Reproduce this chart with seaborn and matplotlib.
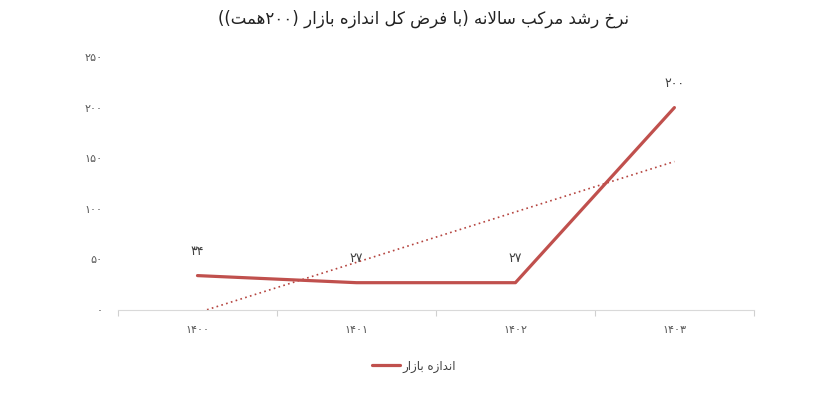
import numpy as np
import pandas as pd
import matplotlib
matplotlib.use("Agg")
import matplotlib.pyplot as plt
import seaborn as sns

# data
years = ["1400", "1401", "1402", "1403"]
market_size = [34, 27, 27, 200]
y_ticks = [0, 50, 100, 150, 200, 250]

title_text = "نرخ رشد مرکب سالانه (با فرض کل اندازه بازار (200همت))"
legend_text = "اندازه بازار"

# --- tiny persian shaper (matplotlib has no bidi / joining support) ---
FORMS = {
    "ا": ("\uFE8D", "\uFE8E", None, None),
    "ب": ("\uFE8F", "\uFE90", "\uFE91", "\uFE92"),
    "ت": ("\uFE95", "\uFE96", "\uFE97", "\uFE98"),
    "خ": ("\uFEA5", "\uFEA6", "\uFEA7", "\uFEA8"),
    "د": ("\uFEA9", "\uFEAA", None, None),
    "ر": ("\uFEAD", "\uFEAE", None, None),
    "ز": ("\uFEAF", "\uFEB0", None, None),
    "س": ("\uFEB1", "\uFEB2", "\uFEB3", "\uFEB4"),
    "ش": ("\uFEB5", "\uFEB6", "\uFEB7", "\uFEB8"),
    "ض": ("\uFEBD", "\uFEBE", "\uFEBF", "\uFEC0"),
    "ف": ("\uFED1", "\uFED2", "\uFED3", "\uFED4"),
    "ک": ("\uFB8E", "\uFB8F", "\uFB90", "\uFB91"),
    "ل": ("\uFEDD", "\uFEDE", "\uFEDF", "\uFEE0"),
    "م": ("\uFEE1", "\uFEE2", "\uFEE3", "\uFEE4"),
    "ن": ("\uFEE5", "\uFEE6", "\uFEE7", "\uFEE8"),
    "ه": ("\uFEE9", "\uFEEA", "\uFEEB", "\uFEEC"),
}
FA_DIGITS = str.maketrans("0123456789", "۰۱۲۳۴۵۶۷۸۹")
MIRROR = {"(": ")", ")": "("}


def joins_next(c):
    return c in FORMS and FORMS[c][2] is not None


def fa(text):
    text = text.translate(FA_DIGITS)
    chars = list(text)
    tokens = []
    i = 0
    while i < len(chars):
        c = chars[i]
        prev = chars[i - 1] if i > 0 else ""
        nxt = chars[i + 1] if i + 1 < len(chars) else ""
        if c.isdigit():
            j = i
            while j < len(chars) and chars[j].isdigit():
                j += 1
            tokens.append("".join(chars[i:j]))
            i = j
            continue
        if c == "ل" and nxt == "ا":
            tokens.append("\uFEFC" if joins_next(prev) else "\uFEFB")
            i += 2
            continue
        if c in FORMS:
            iso, fin, ini, med = FORMS[c]
            p = joins_next(prev)
            n = joins_next(c) and nxt in FORMS
            if p and n:
                g = med
            elif p:
                g = fin
            elif n:
                g = ini
            else:
                g = iso
            tokens.append(g)
        else:
            tokens.append(MIRROR.get(c, c))
        i += 1
    return "".join(reversed(tokens))


df = pd.DataFrame({"pos": np.arange(len(years)), "size": market_size})

sns.set_style("white")
plt.rcParams["font.family"] = ["DejaVu Sans"]

fig = plt.figure(figsize=(8.28, 4.01), dpi=100)
ax = fig.add_axes([0.1425, 0.2269, 0.768, 0.631])

red = "#C0504D"
sns.regplot(data=df, x="pos", y="size", ax=ax, scatter=False, ci=None,
            truncate=True, color="#B5443F",
            line_kws={"linestyle": (0, (1, 2.0)), "linewidth": 1.2})
sns.lineplot(data=df, x="pos", y="size", ax=ax, color=red, linewidth=2.3,
             legend=False)

for x, v in zip(df["pos"], market_size):
    ax.text(x, v + 17, fa(str(v)), ha="center", va="bottom",
            fontsize=9, color="#404040")

ax.set_xlim(-0.5, len(years) - 0.5)
ax.set_ylim(0, 250)
ax.set_yticks(y_ticks)
ax.set_yticklabels([fa(str(t)) for t in y_ticks], fontsize=8, color="#595959")
ax.set_xticks(df["pos"])
ax.set_xticklabels([fa(y) for y in years], fontsize=8, color="#595959")
ax.set_xticks(np.arange(-0.5, len(years), 1.0), minor=True)
ax.tick_params(axis="x", which="major", length=0, pad=11)
ax.tick_params(axis="x", which="minor", bottom=True, length=4,
               color="#d0d0d0", width=0.8)
ax.tick_params(axis="y", length=0, pad=11)
ax.set_xlabel("")
ax.set_ylabel("")

for s in ["top", "right", "left"]:
    ax.spines[s].set_visible(False)
ax.spines["bottom"].set_color("#d9d9d9")
ax.spines["bottom"].set_linewidth(0.8)

fig.suptitle(fa(title_text), x=0.512, y=0.975, fontsize=12, color="#222222")

handles = [ax.get_lines()[-1]]
fig.legend(handles, [fa(legend_text)], loc="center",
           bbox_to_anchor=(0.5, 1 - 366 / 401), frameon=False, fontsize=8.5,
           handlelength=2.4, handletextpad=0.2, labelcolor="#404040")

fig.savefig("out.png", dpi=100)
